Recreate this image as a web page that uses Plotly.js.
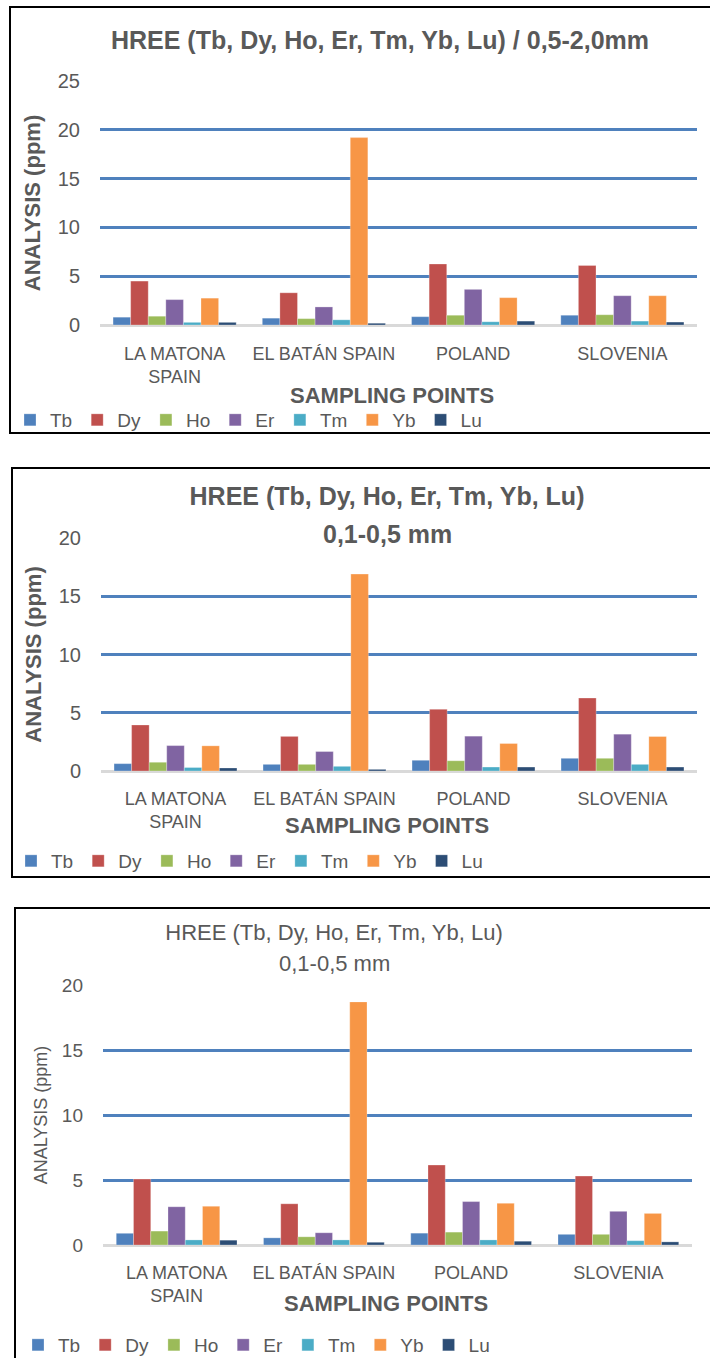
<!DOCTYPE html>
<html>
<head>
<meta charset="utf-8">
<script src="https://cdn.plot.ly/plotly-3.0.1.min.js"></script>
<style>
  html, body { margin: 0; padding: 0; background: #fff; }
  body { width: 710px; height: 1358px; position: relative; overflow: hidden; }
  .plot { position: absolute; left: 0; width: 710px; }
  .frame { position: absolute; box-sizing: border-box; border: 2px solid #000; pointer-events: none; z-index: 10; }
</style>
</head>
<body>
<div id="p1" class="plot" style="top:0px;height:440px;"></div>
<div id="p2" class="plot" style="top:460px;height:425px;"></div>
<div id="p3" class="plot" style="top:900px;height:458px;"></div>
<div class="frame" style="left:9px;top:6px;width:720px;height:428px;"></div>
<div class="frame" style="left:11px;top:467px;width:720px;height:411px;"></div>
<div class="frame" style="left:14px;top:907px;width:720px;height:500px;"></div>
<script>
// ---------- DATA ----------
const categories = ["LA MATONA<br>SPAIN", "EL BATÁN SPAIN", "POLAND", "SLOVENIA"];
const elements = ["Tb", "Dy", "Ho", "Er", "Tm", "Yb", "Lu"];

// Panel 1: 0,5-2,0 mm
const coarseTb = [0.8, 0.7, 0.85, 1.0];
const coarseDy = [4.5, 3.3, 6.25, 6.1];
const coarseHo = [0.9, 0.65, 1.0, 1.05];
const coarseEr = [2.6, 1.85, 3.65, 3.0];
const coarseTm = [0.27, 0.53, 0.33, 0.4];
const coarseYb = [2.75, 19.2, 2.8, 3.0];
const coarseLu = [0.27, 0.18, 0.4, 0.3];

// Panel 2: 0,1-0,5 mm (first)
const fineATb = [0.63, 0.57, 0.92, 1.09];
const fineADy = [3.95, 2.97, 5.29, 6.26];
const fineAHo = [0.75, 0.57, 0.88, 1.09];
const fineAEr = [2.18, 1.67, 2.99, 3.16];
const fineATm = [0.3, 0.4, 0.34, 0.57];
const fineAYb = [2.16, 16.9, 2.36, 2.96];
const fineALu = [0.26, 0.14, 0.34, 0.34];

// Panel 3: 0,1-0,5 mm (second)
const fineBTb = [0.9, 0.55, 0.91, 0.82];
const fineBDy = [5.07, 3.17, 6.15, 5.3];
const fineBHo = [1.07, 0.63, 0.99, 0.82];
const fineBEr = [2.94, 0.94, 3.34, 2.59];
const fineBTm = [0.39, 0.39, 0.39, 0.33];
const fineBYb = [2.98, 18.7, 3.21, 2.43];
const fineBLu = [0.37, 0.21, 0.29, 0.24];

const yTickVals = [0, 5, 10, 15, 20, 25];

// ---------- STYLE ----------
const colors = ["#4F81BD", "#C0504D", "#9BBB59", "#8064A2", "#4BACC6", "#F79646", "#2C4D75"];
const FONT = "Liberation Sans, Arial, sans-serif";
const TXT = "#595959";

function makePanel(cfg) {
  const W = 710;
  const plotW = W - cfg.l - cfg.r;
  const plotH = cfg.height - cfg.t - cfg.b;
  const px2paperX = x => (x - cfg.l) / plotW;
  const px2paperY = y => (cfg.top + cfg.height - cfg.b - y) / plotH;

  const traces = elements.map((name, i) => ({
    type: "bar",
    name: name,
    x: categories,
    y: cfg.series[i],
    marker: { color: colors[i], line: { color: "rgba(255,255,255,0.45)", width: 0.6 } },
    hoverinfo: "x+y+name"
  }));

  const annotations = [
    {
      text: "SAMPLING POINTS",
      xref: "paper", yref: "paper",
      x: px2paperX(cfg.xTitle[0]), y: px2paperY(cfg.xTitle[1]),
      xanchor: "center", yanchor: "middle", showarrow: false,
      font: { family: FONT, size: 22, color: TXT, weight: "bold" }
    }
  ];
  if (cfg.title2) {
    annotations.push({
      text: cfg.title2,
      xref: "paper", yref: "paper",
      x: px2paperX(cfg.title2Pos[0]), y: px2paperY(cfg.title2Pos[1]),
      xanchor: "center", yanchor: "middle", showarrow: false,
      font: { family: FONT, size: cfg.titleSize, color: TXT, weight: cfg.titleWeight }
    });
  }

  const layout = {
    width: W, height: cfg.height,
    margin: { l: cfg.l, r: cfg.r, t: cfg.t, b: cfg.b, pad: 0 },
    paper_bgcolor: "#fff", plot_bgcolor: "#fff",
    font: { family: FONT, color: TXT },
    title: {
      text: cfg.title,
      xref: "container", yref: "container",
      x: cfg.titlePos[0] / W, y: 1 - (cfg.titlePos[1] - cfg.top) / cfg.height,
      xanchor: "center", yanchor: "middle",
      font: { family: FONT, size: cfg.titleSize, color: TXT, weight: cfg.titleWeight }
    },
    barmode: "group",
    bargap: cfg.bargap,
    bargroupgap: 0,
    showlegend: true,
    legend: {
      orientation: "h",
      xref: "container", yref: "container",
      x: cfg.legendX / W, y: 1 - (cfg.legendY - cfg.top) / cfg.height,
      xanchor: "left", yanchor: "middle",
      font: { family: FONT, size: 19, color: TXT },
      itemwidth: 30,
      traceorder: "normal",
      bgcolor: "rgba(0,0,0,0)"
    },
    xaxis: {
      type: "category",
      showgrid: false, zeroline: false, showline: false,
      ticks: "", tickangle: 0,
      tickfont: { family: FONT, size: 18, color: TXT },
      ticklabelstandoff: cfg.xStandoff,
      automargin: false
    },
    yaxis: {
      range: [0, cfg.ymax],
      tickvals: yTickVals.filter(v => v <= cfg.ymax),
      showgrid: true, gridcolor: "#4F81BD", gridwidth: 2.5,
      zeroline: true, zerolinecolor: "#D9D9D9", zerolinewidth: 2.5,
      showline: false, ticks: "",
      tickfont: { family: FONT, size: cfg.tickSize, color: TXT },
      ticklabelstandoff: cfg.yStandoff,
      automargin: false,
      title: {
        text: "ANALYSIS (ppm)",
        standoff: cfg.yTitleStandoff,
        font: { family: FONT, size: cfg.yTitleSize, color: TXT, weight: cfg.yTitleWeight }
      }
    },
    annotations: annotations
  };

  Plotly.newPlot(cfg.id, traces, layout, { displayModeBar: false });
}

makePanel({
  id: "p1", top: 0, height: 440, l: 100, r: 13, t: 81, b: 115, ymax: 25,
  series: [coarseTb, coarseDy, coarseHo, coarseEr, coarseTm, coarseYb, coarseLu],
  title: "HREE (Tb, Dy, Ho, Er, Tm, Yb, Lu) / 0,5-2,0mm", titlePos: [380, 40],
  titleSize: 25, titleWeight: "bold",
  xTitle: [392, 395], legendX: 10, legendY: 420, bargap: 0.175,
  tickSize: 20, xStandoff: 16, yStandoff: 19,
  yTitleSize: 22, yTitleWeight: "bold", yTitleStandoff: 11
});

makePanel({
  id: "p2", top: 460, height: 425, l: 101, r: 13, t: 78, b: 114, ymax: 20,
  series: [fineATb, fineADy, fineAHo, fineAEr, fineATm, fineAYb, fineALu],
  title: "HREE (Tb, Dy, Ho, Er, Tm, Yb, Lu)", titlePos: [387, 496],
  title2: "0,1-0,5 mm", title2Pos: [387, 534],
  titleSize: 25, titleWeight: "bold",
  xTitle: [387, 825], legendX: 11, legendY: 861, bargap: 0.175,
  tickSize: 20, xStandoff: 15, yStandoff: 19,
  yTitleSize: 22, yTitleWeight: "bold", yTitleStandoff: 11
});

makePanel({
  id: "p3", top: 900, height: 458, l: 103, r: 18, t: 85, b: 113, ymax: 20,
  series: [fineBTb, fineBDy, fineBHo, fineBEr, fineBTm, fineBYb, fineBLu],
  title: "HREE (Tb, Dy, Ho, Er, Tm, Yb, Lu)", titlePos: [334, 932],
  title2: "0,1-0,5 mm", title2Pos: [334, 963],
  titleSize: 22, titleWeight: "normal",
  xTitle: [386, 1303], legendX: 18, legendY: 1345, bargap: 0.18,
  tickSize: 19, xStandoff: 15, yStandoff: 19,
  yTitleSize: 18, yTitleWeight: "normal", yTitleStandoff: 9
});
</script>
</body>
</html>
